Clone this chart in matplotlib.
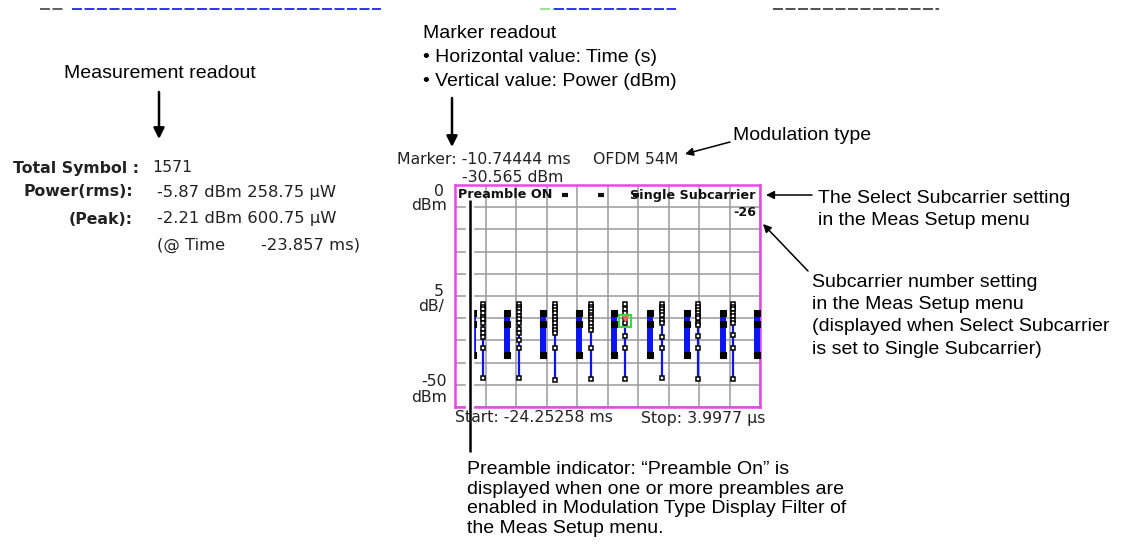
import numpy as np
import matplotlib
matplotlib.use('Agg')
import matplotlib.pyplot as plt

# screen values (time in ms, power in dBm)
t_start = -24.25258
t_stop = 0.0039977
p_min, p_max = -50.0, 0.0

# preamble bursts (thick bars): time, high, mid, low
pre_t = [-22.85, -20.14, -17.23, -14.39, -11.58, -8.75, -5.83, -2.96, -0.26]
pre_hi = [-28.8, -28.8, -28.8, -28.8, -28.8, -28.8, -28.8, -28.8, -28.8]
pre_mid = [-31.2, -31.2, -31.2, -31.3, -31.3, -31.2, -31.2, -31.2, -31.2]
pre_lo = [-38.3, -38.3, -38.3, -38.3, -38.3, -38.3, -38.3, -38.3, -38.3]

# data symbols of subcarrier -26
sym_t = [-22.05, -19.16, -16.32, -13.46, -10.74444, -7.77, -4.90, -2.12]
sym_p = [
    [-26.88, -27.40, -28.00, -28.90, -29.65, -30.25, -31.16, -32.51, -33.41, -34.31, -36.79, -43.54],
    [-26.88, -27.40, -28.00, -28.68, -29.43, -30.25, -31.16, -32.51, -33.41, -34.91, -36.79, -43.54],
    [-26.80, -27.40, -28.15, -28.90, -29.65, -30.41, -31.16, -31.91, -32.66, -33.41, -36.79, -43.92],
    [-26.88, -27.40, -28.00, -28.53, -29.28, -29.80, -30.41, -31.16, -31.91, -32.66, -36.79, -43.69],
    [-26.88, -27.93, -28.90, -29.65, -31.16, -34.01, -36.79, -43.77],
    [-26.88, -27.40, -28.00, -28.68, -29.28, -30.41, -31.16, -34.31, -36.79, -43.54],
    [-26.80, -27.40, -28.15, -28.90, -29.50, -30.03, -31.01, -31.53, -34.01, -36.79, -43.69],
    [-26.88, -27.40, -28.00, -28.75, -29.43, -30.41, -31.16, -33.78, -36.79, -43.77],
]
marker_t = -10.74444
marker_p = -30.565

W, H = 1121, 557
fig = plt.figure(figsize=(W / 100, H / 100), dpi=100)

# plot box in pixels: left 455, right 760, top 185, bottom 407
ax = fig.add_axes([455 / W, 1 - 407 / H, 305 / W, 222 / H])
ax.set_xlim(t_start, t_stop)
ax.set_ylim(p_min, p_max)
ax.set_xticks(np.linspace(t_start, t_stop, 11))
ax.set_yticks(np.arange(p_min, p_max + 1, 5))
ax.tick_params(length=0, labelbottom=False, labelleft=False)
ax.grid(True, color='#9a9a9a', lw=1.1)
ax.set_axisbelow(True)
for s in ax.spines.values():
    s.set_color('#e846e8')
    s.set_linewidth(1.8)

blue = '#0a14f0'
for t, hi, mid, lo in zip(pre_t, pre_hi, pre_mid, pre_lo):
    ax.plot([t, t], [lo, hi], color=blue, lw=4.3, solid_capstyle='butt', zorder=3)
    ax.plot([t, t, t], [hi, mid, lo], ls='none', marker='s', ms=4.0,
            mfc='black', mec='black', mew=0.8, zorder=4)
for t, vals in zip(sym_t, sym_p):
    ax.plot([t] * len(vals), vals, color=blue, lw=1.6, marker='s', ms=2.8,
            mfc='white', mec='black', mew=1.1, zorder=4)
ax.plot([marker_t], [marker_p + 0.6], marker='v', ms=4, color='#ff6060', mec='#ff6060', zorder=5)
ax.plot([marker_t], [marker_p], marker='s', ms=8.5, mfc='none', mec='#3ad83a', mew=1.5, zorder=6)

# overlay in pixel coordinates for all the texts and callouts
ov = fig.add_axes([0, 0, 1, 1], zorder=5)
ov.set_xlim(0, W)
ov.set_ylim(H, 0)
ov.axis('off')
ov.patch.set_alpha(0)

ann = dict(family='Liberation Sans', fontsize=14, color='black')
inst = dict(family='DejaVu Sans', fontsize=11.3, color='#222222')
val = dict(family='DejaVu Sans', fontsize=11.8, color='#222222')
arr = dict(arrowstyle='-|>', color='black', lw=1.8, mutation_scale=16,
           shrinkA=0, shrinkB=0)
arr_thin = dict(arrowstyle='-|>', color='black', lw=1.1, mutation_scale=12,
                shrinkA=0, shrinkB=0)

# faint remains of the previous screen at the top
for x0, x1, c in [(40, 65, '#444444'), (72, 381, blue), (540, 554, '#88e088'),
                  (554, 676, blue), (773, 939, '#333333')]:
    ov.plot([x0, x1], [9, 9], color=c, lw=1.2, ls=(0, (6, 1.5)))

# measurement readout (left)
ov.text(160, 73, 'Measurement readout', ha='center', va='center', **ann)
ov.annotate('', xy=(159, 139), xytext=(159, 92), arrowprops=arr)
ov.text(13, 168, 'Total Symbol :', ha='left', va='center', fontweight='bold', **inst)
ov.text(152, 168, '1571', ha='left', va='center', **inst)
ov.text(133, 192, 'Power(rms):', ha='right', va='center', fontweight='bold', **inst)
ov.text(157, 192, '-5.87 dBm 258.75 µW', ha='left', va='center', **val)
ov.text(133, 219, '(Peak):', ha='right', va='center', fontweight='bold', **inst)
ov.text(157, 219, '-2.21 dBm 600.75 µW', ha='left', va='center', **val)
ov.text(157, 245, '(@ Time', ha='left', va='center', **val)
ov.text(360, 245, '-23.857 ms)', ha='right', va='center', **val)

# marker readout (top)
ov.text(423, 33, 'Marker readout', ha='left', va='center', **ann)
ov.text(423, 58, '• Horizontal value: Time (s)', ha='left', va='center', **ann)
ov.text(423, 82, '• Vertical value: Power (dBm)', ha='left', va='center', **ann)
ov.annotate('', xy=(452, 147), xytext=(452, 98), arrowprops=arr)
ov.text(397, 160, 'Marker: -10.74444 ms', ha='left', va='center', **inst)
ov.text(462, 177, '-30.565 dBm', ha='left', va='center', **inst)
ov.text(593, 160, 'OFDM 54M', ha='left', va='center', **inst)
ov.text(733, 135, 'Modulation type', ha='left', va='center', **ann)
ov.annotate('', xy=(685, 154), xytext=(730, 142), arrowprops=arr_thin)

# y scale labels
ov.text(444, 192, '0', ha='right', va='center', **inst)
ov.text(447, 206, 'dBm', ha='right', va='center', **inst)
ov.text(444, 291, '5', ha='right', va='center', **inst)
ov.text(444, 307, 'dB/', ha='right', va='center', **inst)
ov.text(447, 381, '-50', ha='right', va='center', **inst)
ov.text(447, 398, 'dBm', ha='right', va='center', **inst)

# header inside the graph
ov.text(458, 195, 'Preamble ON', ha='left', va='center', fontweight='bold',
        family='DejaVu Sans', fontsize=9.2, color='#111111')
ov.text(756, 195, 'Single Subcarrier', ha='right', va='center', fontweight='bold',
        family='DejaVu Sans', fontsize=9.2, color='#111111')
for x in (565, 601, 636):
    ov.plot([x - 3, x + 3], [195, 195], color='#111111', lw=3, solid_capstyle='butt')
ov.text(756, 213, '-26', ha='right', va='center', fontweight='bold',
        family='DejaVu Sans', fontsize=9.2, color='#111111')

# start / stop
ov.text(455, 418, 'Start: -24.25258 ms', ha='left', va='center', **inst)
ov.text(765, 418, 'Stop: 3.9977 µs', ha='right', va='center', **inst)

# preamble indicator callout
ov.plot([470, 470], [200, 452], color='white', lw=6, solid_capstyle='butt')
ov.plot([470, 470], [200, 452], color='black', lw=1.8, solid_capstyle='butt')
ov.text(467, 461, 'Preamble indicator: \u201cPreamble On\u201d is\n'
        'displayed when one or more preambles are\n'
        'enabled in Modulation Type Display Filter of\n'
        'the Meas Setup menu.', ha='left', va='top',
        linespacing=1.2, **ann)

# right side callouts
ov.text(818, 190, 'The Select Subcarrier setting\nin the Meas Setup menu',
        ha='left', va='top', linespacing=1.4, **ann)
ov.annotate('', xy=(766, 195), xytext=(812, 195), arrowprops=arr_thin)
ov.text(812, 274, 'Subcarrier number setting\nin the Meas Setup menu\n'
        '(displayed when Select Subcarrier\nis set to Single Subcarrier)',
        ha='left', va='top', linespacing=1.4, **ann)
ov.annotate('', xy=(763, 224), xytext=(808, 271), arrowprops=arr_thin)

fig.savefig('out.png', dpi=100)
